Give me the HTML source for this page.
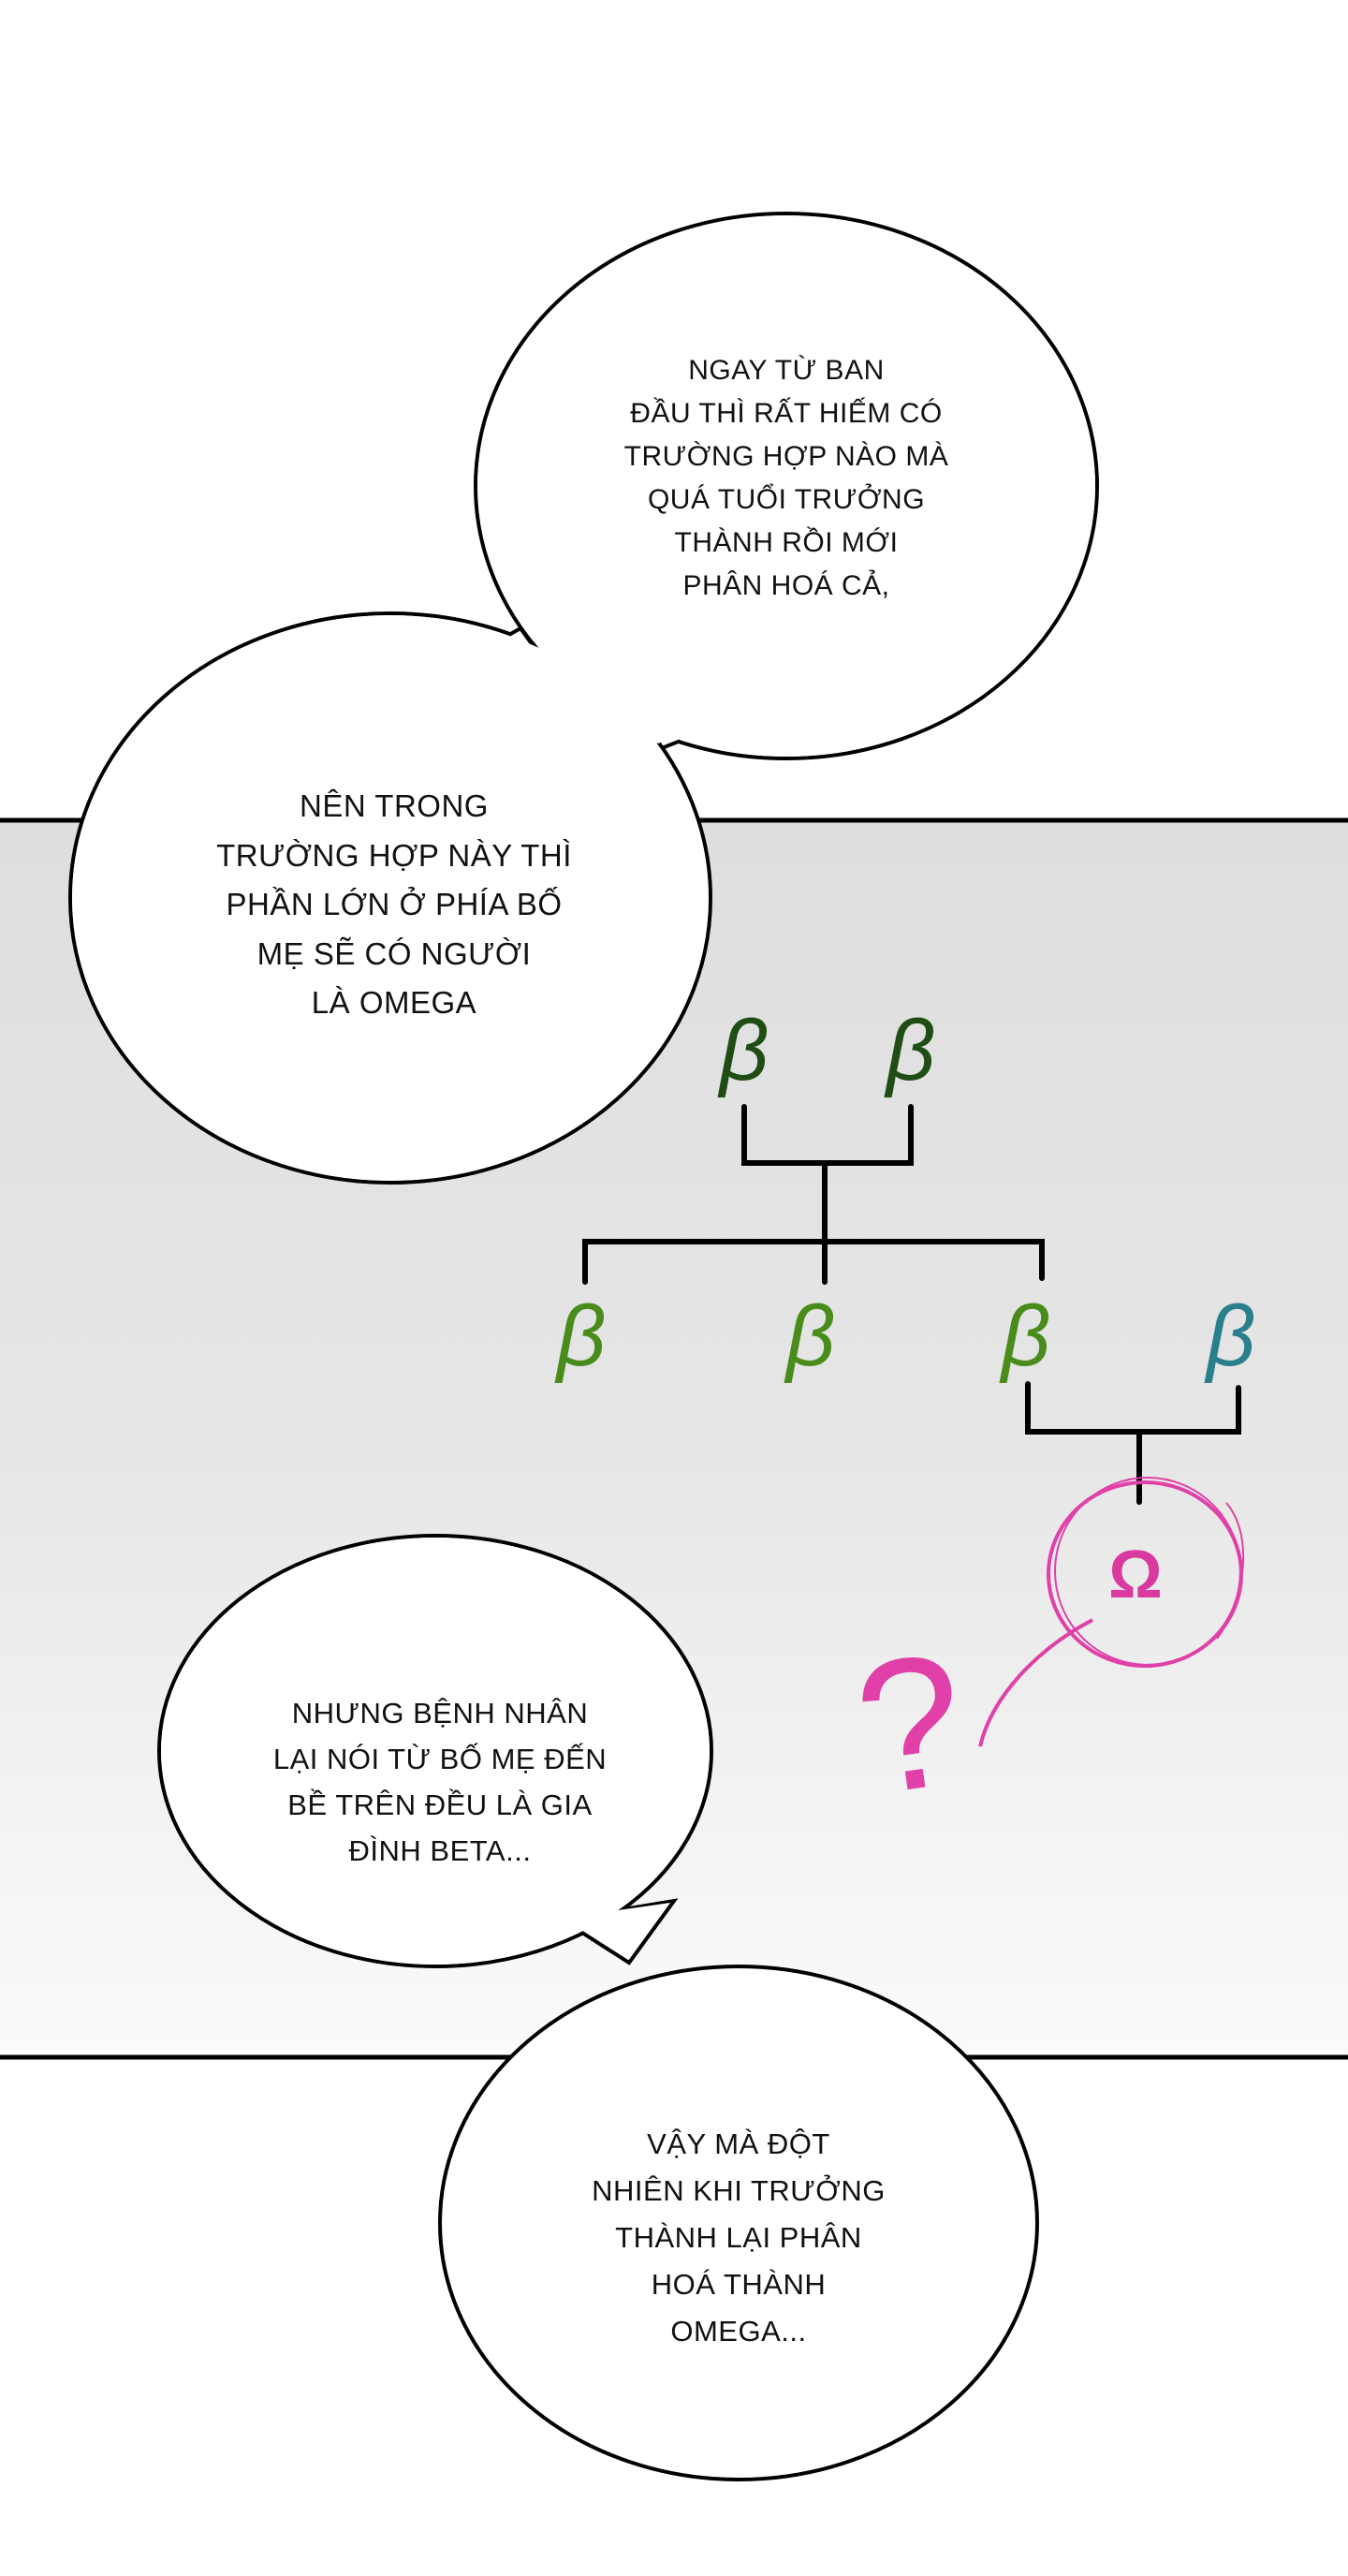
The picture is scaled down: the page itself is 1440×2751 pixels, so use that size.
<!DOCTYPE html>
<html><head><meta charset="utf-8"><style>
html,body{margin:0;padding:0;background:#fff;}
body{width:1440px;height:2751px;position:relative;overflow:hidden;}
.t{position:absolute;font-family:"Liberation Sans",sans-serif;font-size:30px;text-align:center;color:#111;text-transform:uppercase;letter-spacing:0.5px;}
</style></head><body>
<svg width="1440" height="2751" style="position:absolute;left:0;top:0">
<defs><linearGradient id="g" x1="0" y1="0" x2="0" y2="1">
<stop offset="0" stop-color="#dedede"/><stop offset="0.5" stop-color="#e6e6e6"/><stop offset="1" stop-color="#fbfbfb"/></linearGradient></defs>
<rect x="0" y="874" width="1440" height="1324" fill="url(#g)"/>
<line x1="0" y1="876" x2="1440" y2="876" stroke="#000" stroke-width="5"/>
<line x1="0" y1="2197" x2="1440" y2="2197" stroke="#000" stroke-width="5"/>
<g fill="#fff" stroke="#000" stroke-width="4">
<ellipse cx="840" cy="519" rx="332" ry="291"/>
<polygon points="640,770 707,799 780,770"/>
<ellipse cx="417" cy="959" rx="342" ry="304"/>
<polygon points="470,720 556,671 620,760"/>
<ellipse cx="465" cy="1870" rx="295" ry="230"/>
<polygon points="600,2050 672,2096 720,2030"/>
<ellipse cx="789" cy="2374" rx="319" ry="274"/>
</g>
<g fill="#fff">
<ellipse cx="840" cy="519" rx="330" ry="289"/>
<ellipse cx="417" cy="959" rx="340" ry="302"/>
<polygon points="645,768 703,794 775,768"/>
<polygon points="475,722 553,676 617,762"/>
<polygon points="604,2048 668,2090 716,2032"/>
</g>
<ellipse cx="465" cy="1870" rx="293" ry="228" fill="#fff"/>
<g stroke="#000" stroke-width="6" fill="none" stroke-linecap="round">
<polyline points="795,1182 795,1242 973,1242 973,1182"/>
<line x1="881" y1="1242" x2="881" y2="1369"/>
<polyline points="625,1369 625,1326 1113,1326 1113,1365"/>
<polyline points="1098,1478 1098,1529 1323,1529 1323,1482"/>
<line x1="1217" y1="1529" x2="1217" y2="1604"/>
</g>
<g font-family="Liberation Sans, sans-serif" font-style="italic" font-size="92" text-anchor="middle">
<text x="795" y="1153" fill="#1f4d14">β</text>
<text x="973" y="1153" fill="#1f4d14">β</text>
<text x="621" y="1458" fill="#4a8c1c">β</text>
<text x="866" y="1458" fill="#4a8c1c">β</text>
<text x="1096" y="1458" fill="#4a8c1c">β</text>
<text x="1315" y="1458" fill="#2a7f8c">β</text>
</g>
<g stroke="#e040a8" stroke-width="4" fill="none">
<ellipse cx="1223" cy="1681" rx="103" ry="98"/>
<ellipse cx="1226" cy="1678" rx="99" ry="100" stroke-width="2"/>
<path d="M1167,1730 C1110,1760 1060,1810 1047,1865"/>
<path d="M1310,1605 C1340,1640 1330,1710 1300,1750" stroke-width="2"/>
</g>
<text x="1213" y="1706" font-family="Liberation Sans, sans-serif" font-weight="bold" font-size="72" fill="#d83aa0" text-anchor="middle">Ω</text>
<text x="972" y="1910" font-family="Liberation Sans, sans-serif" font-size="200" fill="#e040a8" text-anchor="middle" transform="rotate(-8 972 1836)">?</text>
</svg>
<div class="t" style="left:640px;top:373px;width:400px;line-height:46px;">Ngay từ ban<br>đầu thì rất hiếm có<br>trường hợp nào mà<br>quá tuổi trưởng<br>thành rồi mới<br>phân hoá cả,</div>
<div class="t" style="left:171px;top:835px;width:500px;line-height:52.5px;font-size:33px;">Nên trong<br>trường hợp này thì<br>phần lớn ở phía bố<br>mẹ sẽ có người<br>là omega</div>
<div class="t" style="left:220px;top:1805px;width:500px;line-height:49px;font-size:31px;">Nhưng bệnh nhân<br>lại nói từ bố mẹ đến<br>bề trên đều là gia<br>đình beta...</div>
<div class="t" style="left:539px;top:2265px;width:500px;line-height:50px;font-size:31px;">Vậy mà đột<br>nhiên khi trưởng<br>thành lại phân<br>hoá thành<br>omega...</div>
</body></html>
